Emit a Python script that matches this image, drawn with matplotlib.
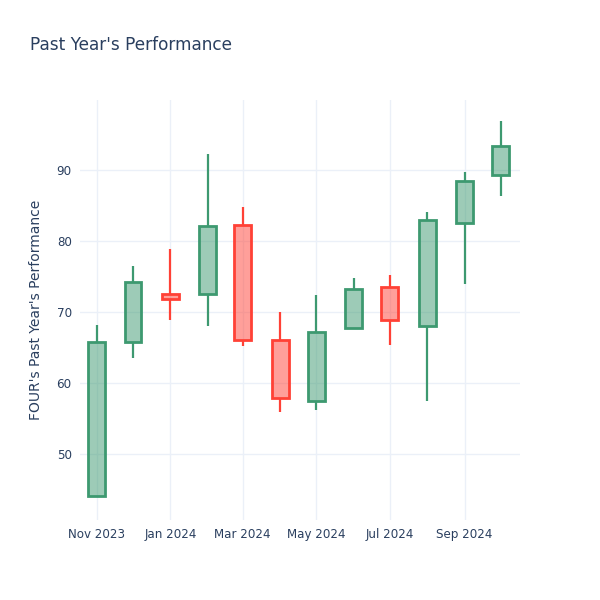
import numpy as np
import pandas as pd
import matplotlib
matplotlib.use('Agg')
import matplotlib.pyplot as plt
import matplotlib.dates as mdates

# monthly candles
months = ['2023-11-01', '2023-12-01', '2024-01-01', '2024-02-01', '2024-03-01', '2024-04-01',
          '2024-05-01', '2024-06-01', '2024-07-01', '2024-08-01', '2024-09-01', '2024-10-01']
opens  = [44.1, 65.8, 72.6, 72.5, 82.3, 66.1, 57.5, 67.7, 73.5, 68.0, 82.5, 89.3]
closes = [65.8, 74.2, 71.8, 82.1, 66.1, 57.9, 67.2, 73.2, 68.9, 83.0, 88.5, 93.4]
highs  = [68.2, 76.5, 78.9, 92.3, 84.8, 70.0, 72.4, 74.8, 75.2, 84.1, 89.7, 96.9]
lows   = [43.9, 63.5, 68.9, 68.0, 65.2, 55.9, 56.2, 67.7, 65.4, 57.5, 74.0, 86.3]
tick_dates = ['2023-11-01', '2024-01-01', '2024-03-01', '2024-05-01', '2024-07-01', '2024-09-01']
tick_labels = ['Nov 2023', 'Jan 2024', 'Mar 2024', 'May 2024', 'Jul 2024', 'Sep 2024']

inc_col = '#3D9970'
dec_col = '#FF4136'
txt = '#2a3f5f'
grid = '#EBF0F8'

x = mdates.date2num(pd.to_datetime(months))

fig = plt.figure(figsize=(6, 6), dpi=100)
ax = fig.add_axes([80/600, 80/600, 440/600, 420/600])

for xi, o, c, h, l in zip(x, opens, closes, highs, lows):
    col = inc_col if c >= o else dec_col
    lo, hi = min(o, c), max(o, c)
    ax.vlines(xi, hi, h, color=col, lw=1.6, zorder=2)
    ax.vlines(xi, l, lo, color=col, lw=1.6, zorder=2)
    ax.bar(xi, hi - lo, bottom=lo, width=14, color=col, alpha=0.5, lw=0, zorder=3)
    ax.bar(xi, hi - lo, bottom=lo, width=14, facecolor='none', edgecolor=col, lw=2, zorder=4)

ax.set_xlim(mdates.date2num(pd.Timestamp('2023-10-18')), mdates.date2num(pd.Timestamp('2024-10-17')))
ax.set_ylim(40.7, 99.9)
ax.set_yticks([50, 60, 70, 80, 90])
ax.set_xticks(mdates.date2num(pd.to_datetime(tick_dates)))
ax.set_xticklabels(tick_labels)
ax.grid(True, color=grid, lw=1, zorder=0)
ax.set_axisbelow(True)
for s in ax.spines.values():
    s.set_visible(False)
ax.tick_params(length=0, labelsize=8.6, labelcolor=txt, pad=6)
ax.set_ylabel("FOUR's Past Year's Performance", fontsize=10, color=txt, labelpad=10)
fig.text(30/600, 1 - 45/600, "Past Year's Performance", fontsize=12.2, color=txt, va='center')

fig.savefig('out.png', dpi=100)
